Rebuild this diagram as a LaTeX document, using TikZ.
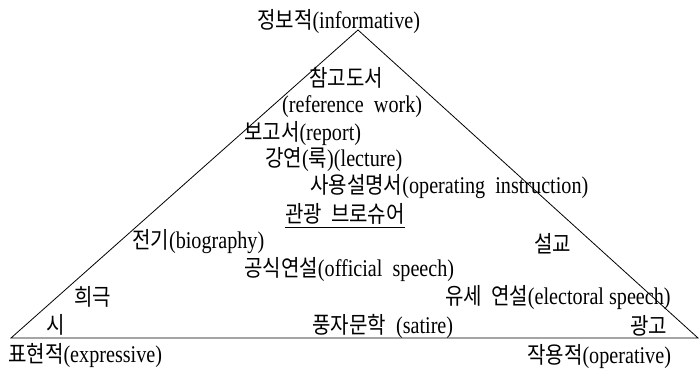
\documentclass[tikz,border=0pt]{standalone}
\usepackage{fontspec}
\setmainfont{Liberation Serif}[FakeStretch=0.84]
\newfontfamily\kr{Noto Sans CJK KR}[FakeStretch=0.87, Scale=0.96]
\begin{document}
\begin{tikzpicture}[x=1pt,y=-1pt,
  lbl/.style={inner sep=0pt, anchor=west, font=\fontsize{24}{28}\selectfont},
  edge/.style={line width=0.8pt}]
\useasboundingbox (0,0) rectangle (700,374);
\coordinate (top) at (358,30);
\coordinate (L) at (11,338);
\coordinate (R) at (698,338);
\draw[edge] (L) -- (top) -- (R) -- cycle;
\node[lbl] (inf) at (257,22) {{\kr 정보적}(informative)};
\node[lbl] (ref1) at (309,78) {{\kr 참고도서}};
\node[lbl] (ref2) at (282,107) {(reference\ \ work)};
\node[lbl] (rep) at (244,134) {{\kr 보고서}(report)};
\node[lbl] (lec) at (265,160) {{\kr 강연}({\kr 룩})(lecture)};
\node[lbl] (ope) at (310,187) {{\kr 사용설명서}(operating\ \ instruction)};
\node[lbl] (tour) at (285,214) {{\kr 관광\ \ 브로슈어}};
\draw[edge] ([yshift=-3pt]tour.south west) -- ([yshift=-3pt]tour.south east);
\node[lbl] (bio) at (132,242) {{\kr 전기}(biography)};
\node[lbl] (ser) at (534,244) {{\kr 설교}};
\node[lbl] (off) at (244,270) {{\kr 공식연설}(official\ \ speech)};
\node[lbl] (dra) at (74,297) {{\kr 희극}};
\node[lbl] (ele) at (445,298) {{\kr 유세\ \ 연설}(electoral speech)};
\node[lbl] (poe) at (46,325) {{\kr 시}};
\node[lbl] (sat) at (312,326) {{\kr 풍자문학}\ \ (satire)};
\node[lbl] (adv) at (630,326) {{\kr 광고}};
\node[lbl] (exp) at (8,356) {{\kr 표현적}(expressive)};
\node[lbl] (opr) at (527,357) {{\kr 작용적}(operative)};
\end{tikzpicture}
\end{document}
